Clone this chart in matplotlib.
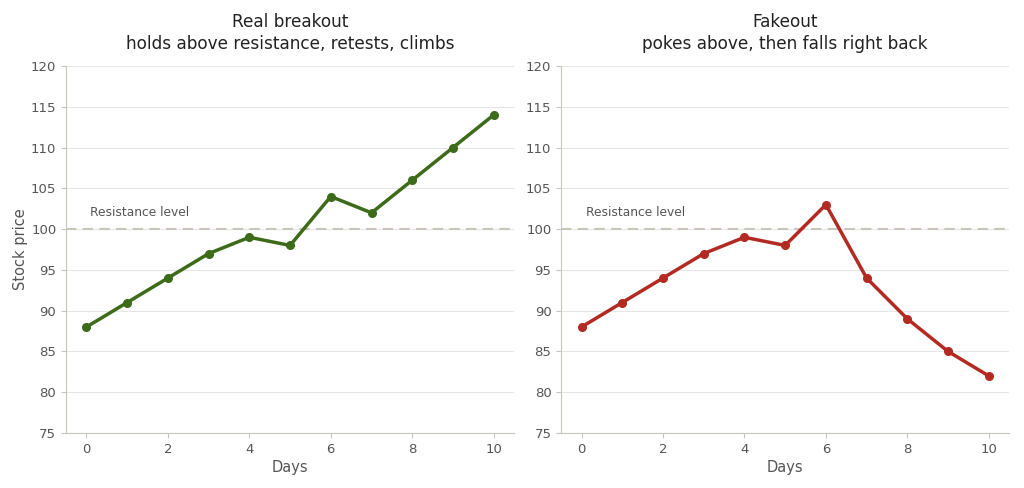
import matplotlib
matplotlib.use("Agg")
import matplotlib.pyplot as plt

# Data
days = [0, 1, 2, 3, 4, 5, 6, 7, 8, 9, 10]
real_prices = [88, 91, 94, 97, 99, 98, 104, 102, 106, 110, 114]
fake_prices = [88, 91, 94, 97, 99, 98, 103, 94, 89, 85, 82]
resistance = 100

titles = [
    "Real breakout\nholds above resistance, retests, climbs",
    "Fakeout\npokes above, then falls right back",
]
colours = ["#3d6b1a", "#b22a22"]

spine_col = "#c9c6bc"
text_col = "#555555"

fig = plt.figure(figsize=(10.24, 4.88), dpi=100)
ax1 = fig.add_axes([0.0645, 0.1127, 0.4375, 0.752])
ax2 = fig.add_axes([0.548, 0.1127, 0.4375, 0.752])

for ax, prices, title, col in zip([ax1, ax2], [real_prices, fake_prices], titles, colours):
    ax.set_axisbelow(True)
    ax.grid(axis="y", color="#e6e6e6", linewidth=0.8)
    ax.axhline(resistance, color="#c9c5b9", linestyle=(0, (5, 3)), linewidth=1.5, zorder=1)
    ax.text(0.1, resistance + 1.3, "Resistance level", fontsize=8.8, color=text_col, va="bottom")
    ax.plot(days, prices, color=col, linewidth=2.5, marker="o", markersize=5.5, zorder=3)

    ax.set_xlim(-0.5, 10.5)
    ax.set_ylim(75, 120)
    ax.set_xticks([0, 2, 4, 6, 8, 10])
    ax.set_yticks(range(75, 121, 5))
    ax.set_title(title, fontsize=12.2, color="#222222", pad=12, linespacing=1.3)
    ax.set_xlabel("Days", fontsize=10.5, color=text_col, labelpad=3)

    for side in ["top", "right"]:
        ax.spines[side].set_visible(False)
    for side in ["left", "bottom"]:
        ax.spines[side].set_color(spine_col)
    ax.tick_params(colors=spine_col, labelcolor=text_col, labelsize=9.5)

ax1.set_ylabel("Stock price", fontsize=10.5, color=text_col, labelpad=2)

fig.savefig("out.png", dpi=100)
